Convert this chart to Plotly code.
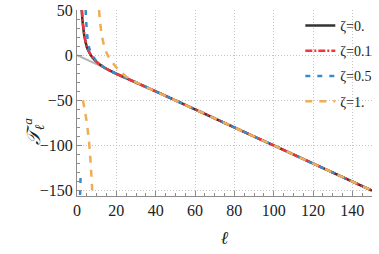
import plotly.graph_objects as go

# ---- data ----
asym_l = [0, 150]
asym_T = [0, -150]

z0_l = [2.4, 2.8, 3.2, 3.6, 4.2, 5.0, 6.0, 7.0, 8.0, 9.0, 10, 12, 14, 17, 20, 25, 30, 40, 60, 100, 150]
z0_T = [50, 38, 30, 23, 16, 9, 4, 0, -3, -5.5, -7.5, -11, -14, -17.5, -20.8, -25.5, -30.3, -40.1, -60, -100, -150]

z01_l = [2.5, 2.9, 3.3, 3.7, 4.3, 5.1, 6.1, 7.1, 8.1, 9.1, 10.1, 12, 14, 17, 20, 25, 30, 40, 60, 100, 150]
z01_T = [50, 38, 30, 23, 16, 9, 4, 0, -3, -5.5, -7.5, -11, -14, -17.5, -20.8, -25.5, -30.3, -40.1, -60, -100, -150]

z05_l = [4.4, 4.6, 4.9, 5.3, 5.8, 6.5, 7.5, 9, 10, 12, 15, 20, 25, 30, 40, 60, 100, 150]
z05_T = [50, 40, 30, 20, 12, 6, 1, -4, -6.8, -10.6, -15, -20.5, -25.3, -30.2, -40.1, -60, -100, -150]
z05_low_l = [1.8, 1.65, 1.55]
z05_low_T = [-136, -146, -156]

z1_l = [11.2, 11.6, 12.1, 12.8, 13.6, 14.6, 15.6, 17, 19.8, 22, 25.5, 30, 35, 40, 60, 100, 150]
z1_T = [50, 40, 30, 20, 12, 5, 0, -5, -13, -18, -24.5, -30, -35.2, -40.2, -60.1, -100, -150]
z1_low_l = [3.0, 3.7, 4.5, 5.2, 5.8, 6.4, 6.9, 7.3, 7.7, 7.9]
z1_low_T = [-50, -58, -68, -78, -90, -103, -118, -133, -148, -156]

labels = ["ζ=0.", "ζ=0.1", "ζ=0.5", "ζ=1."]
x_ticks = [0, 20, 40, 60, 80, 100, 120, 140]
y_ticks = [-150, -100, -50, 0, 50]

fig = go.Figure()
fig.add_trace(go.Scatter(x=asym_l, y=asym_T, mode="lines", line=dict(color="#b3b3b3", width=2), showlegend=False, hoverinfo="skip"))
fig.add_trace(go.Scatter(x=z0_l, y=z0_T, mode="lines", name=labels[0], legendgroup="a", line=dict(color="#333333", width=2.5, shape="spline")))
fig.add_trace(go.Scatter(x=z01_l, y=z01_T, mode="lines", name=labels[1], legendgroup="b", line=dict(color="#f2343c", width=2.5, dash="7px,2px,2px,2px", shape="spline")))
fig.add_trace(go.Scatter(x=z05_l, y=z05_T, mode="lines", name=labels[2], legendgroup="c", line=dict(color="#3a8cc6", width=2.5, dash="5px,7px", shape="spline")))
fig.add_trace(go.Scatter(x=z05_low_l, y=z05_low_T, mode="lines", legendgroup="c", showlegend=False, line=dict(color="#3a8cc6", width=2.5, dash="5px,7px")))
fig.add_trace(go.Scatter(x=z1_l, y=z1_T, mode="lines", name=labels[3], legendgroup="d", line=dict(color="#eeae55", width=2.5, dash="7px,7px", shape="spline")))
fig.add_trace(go.Scatter(x=z1_low_l, y=z1_low_T, mode="lines", legendgroup="d", showlegend=False, line=dict(color="#eeae55", width=2.5, dash="7px,7px", shape="spline")))

axis_common = dict(
    showline=True, linecolor="#8c8c8c", linewidth=1,
    showgrid=True, gridcolor="#c4c4c4", griddash="1px,2px", gridwidth=1,
    zeroline=False, ticks="inside", ticklen=5, tickcolor="#8c8c8c",
    tickfont=dict(family="Liberation Serif", size=16, color="#222222"),
    mirror=False, automargin=False,
)
fig.update_xaxes(range=[0, 150], tickvals=x_ticks, ticktext=[str(v) for v in x_ticks],
                 minor=dict(dtick=5, ticks="inside", ticklen=3, tickcolor="#8c8c8c", showgrid=False), **axis_common)
fig.update_yaxes(range=[-156, 50], tickvals=y_ticks, ticktext=[("−" + str(-v)) if v < 0 else str(v) for v in y_ticks],
                 minor=dict(dtick=10, ticks="inside", ticklen=3, tickcolor="#8c8c8c", showgrid=False), **axis_common)

fig.update_layout(
    width=379, height=254,
    margin=dict(l=77, r=2, t=10, b=58),
    plot_bgcolor="white", paper_bgcolor="white",
    legend=dict(x=0.757, y=1.0, xanchor="left", yanchor="top", bgcolor="rgba(0,0,0,0)",
                font=dict(family="Liberation Serif", size=14, color="#222222"),
                traceorder="grouped", tracegroupgap=4),
    annotations=[
        dict(text="<b><i>ℓ</i></b>", x=0.5, y=-0.29, xref="paper", yref="paper", showarrow=False,
             font=dict(family="Liberation Serif", size=18, color="#222222")),
        dict(text="<i>𝒯</i><sub><i>ℓ</i></sub><sup><i>a</i></sup>", x=-0.2, y=0.345, xref="paper", yref="paper",
             showarrow=False, textangle=-90, font=dict(family="Liberation Serif", size=19, color="#222222")),
    ],
)

fig.write_html("out.html", config={"displayModeBar": False},
               post_script="document.body.style.margin='0px';")
